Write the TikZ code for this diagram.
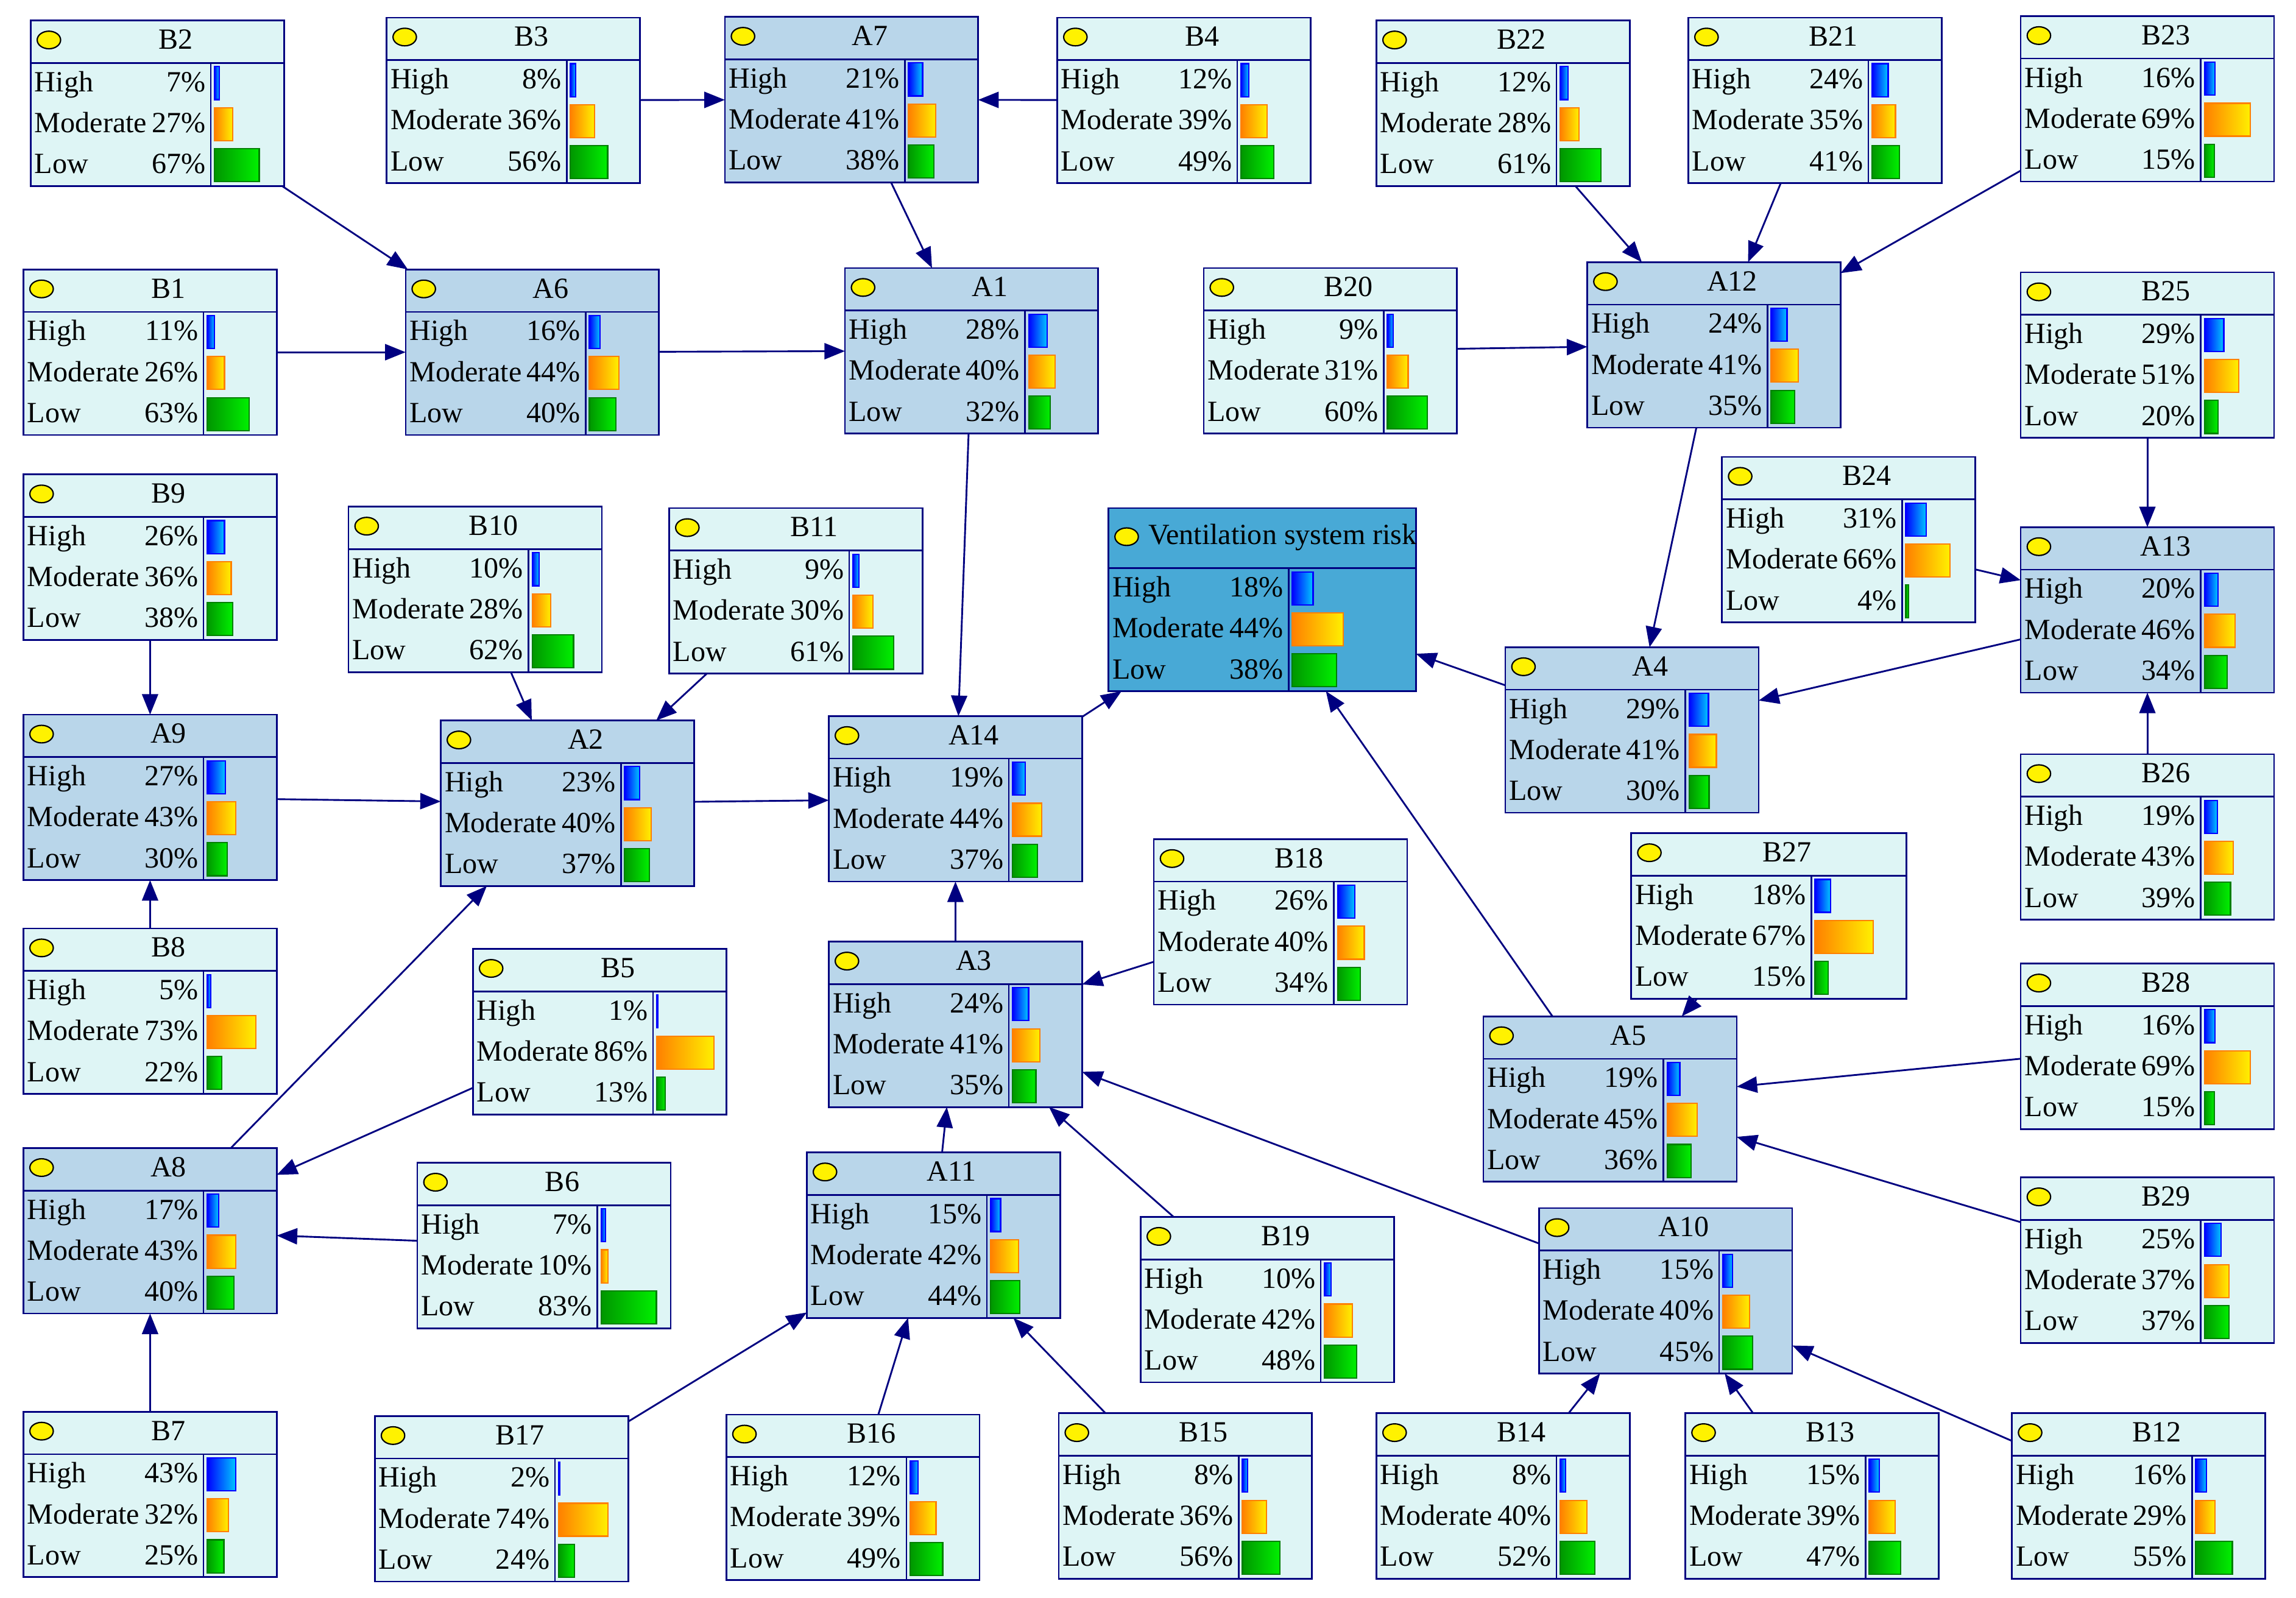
\documentclass[tikz,border=0pt]{standalone}
\usepackage{fontspec}
\setmainfont{Liberation Serif}
\usetikzlibrary{arrows.meta}
\definecolor{navy}{RGB}{0,0,128}
\definecolor{bfill}{RGB}{222,245,245}
\definecolor{afill}{RGB}{185,214,234}
\definecolor{tfill}{RGB}{72,169,214}
\definecolor{hiL}{RGB}{0,0,255}
\definecolor{hiR}{RGB}{0,200,255}
\definecolor{moL}{RGB}{255,128,0}
\definecolor{moR}{RGB}{255,240,0}
\definecolor{loL}{RGB}{0,150,0}
\definecolor{loR}{RGB}{0,240,0}
\def\nw{173}\def\nhh{29}\def\tby{19.5}\def\icy{13.3}
\newcommand\ttl[3]{\node[anchor=base] at ({#1+(25+\nw)/2},{#2+\tby}) {#3};}
\newcommand\brow[5]{%
  \node[anchor=base west] at (#1+2.5,#2+19.5) {#3};
  \node[anchor=base east] at (#1+119.5,#2+19.5) {#4\%};
  \pgfmathsetmacro\blen{max(#4*\bscale/100,0.6)}%
  \path[#5] (#1+125.5,#2+2.5) rectangle ++(\blen,22.5);
}
\newcommand\BN[8]{%
  \pgfmathsetmacro\nht{\nhh+84}%
  \pgfmathsetmacro\bscale{(\nw-123)*0.91}%
  \node[box, fill=#4, minimum width=\nw pt, minimum height=\nht pt, anchor=north west] (#1) at (#2,#3) {};
  \draw[frame] (#2,#3+\nhh) -- ++(\nw,0);
  \draw[frame] (#2+123,#3+\nhh) -- ++(0,84);
  \draw[icon] (#2+12.4,#3+\icy) ellipse [x radius=8pt, y radius=6pt];
  \ttl{#2}{#3}{#5}
  \brow{#2}{#3+\nhh}{High}{#6}{hbar}
  \brow{#2}{#3+\nhh+28}{Moderate}{#7}{mbar}
  \brow{#2}{#3+\nhh+56}{Low}{#8}{lbar}
}
\tikzset{
  every node/.style={font=\fontsize{20}{23}\selectfont, inner sep=0pt},
  box/.style={draw=navy, line width=1.1pt, inner sep=0pt, outer sep=0pt},
  frame/.style={draw=navy, line width=1.1pt},
  icon/.style={draw=black, fill=yellow, line width=0.9pt},
  hbar/.style={draw=hiL, line width=0.9pt, left color=hiL, right color=hiR},
  mbar/.style={draw=moL, line width=0.9pt, left color=moL, right color=moR},
  lbar/.style={draw=loL!85!black, line width=0.9pt, left color=loL, right color=loR},
  edge/.style={draw=navy, line width=1.2pt, -{Triangle[length=14pt,width=11pt]}}
}
\begin{document}
\begin{tikzpicture}[x=1pt,y=-1pt]
\fill[white] (0,0) rectangle (1568,1091.2);
\useasboundingbox (0,0) rectangle (1568,1091.2);
% row 1
\BN{B2}{21}{14}{bfill}{B2}{7}{27}{67}
\BN{B3}{264}{12}{bfill}{B3}{8}{36}{56}
\BN{A7}{495}{11.5}{afill}{A7}{21}{41}{38}
\BN{B4}{722}{12}{bfill}{B4}{12}{39}{49}
\BN{B22}{940}{14}{bfill}{B22}{12}{28}{61}
\BN{B21}{1153}{12}{bfill}{B21}{24}{35}{41}
\BN{B23}{1380}{11}{bfill}{B23}{16}{69}{15}
% row 2
\BN{B1}{16}{184}{bfill}{B1}{11}{26}{63}
\BN{A6}{277}{184}{afill}{A6}{16}{44}{40}
\BN{A1}{577}{183}{afill}{A1}{28}{40}{32}
\BN{B20}{822}{183}{bfill}{B20}{9}{31}{60}
\BN{A12}{1084}{179}{afill}{A12}{24}{41}{35}
\BN{B25}{1380}{186}{bfill}{B25}{29}{51}{20}
% row 3
\BN{B9}{16}{324}{bfill}{B9}{26}{36}{38}
\BN{B10}{238}{346}{bfill}{B10}{10}{28}{62}
\BN{B11}{457}{347}{bfill}{B11}{9}{30}{61}
{\def\nw{210}\def\nhh{41}\def\tby{24.6}\def\icy{19.5}%
 \renewcommand\ttl[3]{\node[anchor=base west] at (#1+27,#2+\tby) {#3};}%
 \BN{T}{757}{347}{tfill}{Ventilation system risk}{18}{44}{38}}
\BN{B24}{1176}{312}{bfill}{B24}{31}{66}{4}
\BN{A13}{1380}{360}{afill}{A13}{20}{46}{34}
\BN{A4}{1028}{442}{afill}{A4}{29}{41}{30}
% row 4
\BN{A9}{16}{488}{afill}{A9}{27}{43}{30}
\BN{A2}{301}{492}{afill}{A2}{23}{40}{37}
\BN{A14}{566}{489}{afill}{A14}{19}{44}{37}
\BN{B18}{788}{573}{bfill}{B18}{26}{40}{34}
{\def\nw{188}\BN{B27}{1114}{569}{bfill}{B27}{18}{67}{15}}
\BN{B26}{1380}{515}{bfill}{B26}{19}{43}{39}
% row 5
\BN{B8}{16}{634}{bfill}{B8}{5}{73}{22}
\BN{B5}{323}{648}{bfill}{B5}{1}{86}{13}
\BN{A3}{566}{643}{afill}{A3}{24}{41}{35}
\BN{A5}{1013}{694}{afill}{A5}{19}{45}{36}
\BN{B28}{1380}{658}{bfill}{B28}{16}{69}{15}
% row 6
\BN{A8}{16}{784}{afill}{A8}{17}{43}{40}
\BN{B6}{285}{794}{bfill}{B6}{7}{10}{83}
\BN{A11}{551}{787}{afill}{A11}{15}{42}{44}
\BN{B19}{779}{831}{bfill}{B19}{10}{42}{48}
\BN{A10}{1051}{825}{afill}{A10}{15}{40}{45}
\BN{B29}{1380}{804}{bfill}{B29}{25}{37}{37}
% row 7
\BN{B7}{16}{964}{bfill}{B7}{43}{32}{25}
\BN{B17}{256}{967}{bfill}{B17}{2}{74}{24}
\BN{B16}{496}{966}{bfill}{B16}{12}{39}{49}
\BN{B15}{723}{965}{bfill}{B15}{8}{36}{56}
\BN{B14}{940}{965}{bfill}{B14}{8}{40}{52}
\BN{B13}{1151}{965}{bfill}{B13}{15}{39}{47}
\BN{B12}{1374}{965}{bfill}{B12}{16}{29}{55}
% edges
\draw[edge] (B2) -- (A6);
\draw[edge] (B3) -- (A7);
\draw[edge] (B4) -- (A7);
\draw[edge] (A7) -- (A1);
\draw[edge] (B1) -- (A6);
\draw[edge] (A6) -- (A1);
\draw[edge] (A1) -- (A14);
\draw[edge] (B20) -- (A12);
\draw[edge] (B22) -- (A12);
\draw[edge] (B21) -- (A12);
\draw[edge] (B23) -- (A12);
\draw[edge] (A12) -- (A4);
\draw[edge] (B25) -- (A13);
\draw[edge] (B24) -- (A13);
\draw[edge] (B26) -- (A13);
\draw[edge] (A13) -- (A4);
\draw[edge] (A4) -- (T);
\draw[edge] (A14) -- (T);
\draw[edge] (A5) -- (T);
\draw[edge] (B9) -- (A9);
\draw[edge] (B8) -- (A9);
\draw[edge] (A9) -- (A2);
\draw[edge] (B10) -- (A2);
\draw[edge] (B11) -- (A2);
\draw[edge] (A2) -- (A14);
\draw[edge] (A8) -- (A2);
\draw[edge] (B5) -- (A8);
\draw[edge] (B6) -- (A8);
\draw[edge] (B7) -- (A8);
\draw[edge] (A3) -- (A14);
\draw[edge] (B18) -- (A3);
\draw[edge] (A11) -- (A3);
\draw[edge] (B19) -- (A3);
\draw[edge] (A10) -- (A3);
\draw[edge] (B17) -- (A11);
\draw[edge] (B16) -- (A11);
\draw[edge] (B15) -- (A11);
\draw[edge] (B27) -- (A5);
\draw[edge] (B28) -- (A5);
\draw[edge] (B29) -- (A5);
\draw[edge] (B14) -- (A10);
\draw[edge] (B13) -- (A10);
\draw[edge] (B12) -- (A10);
\end{tikzpicture}
\end{document}
